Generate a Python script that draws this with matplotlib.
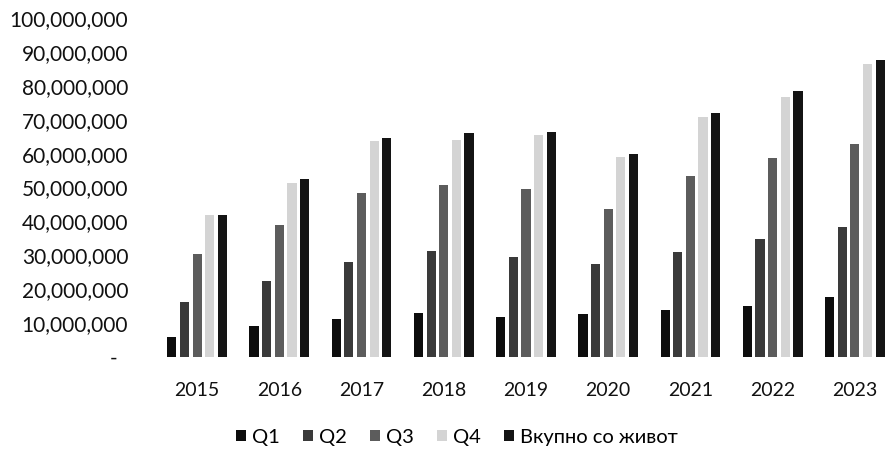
import matplotlib.pyplot as plt
import matplotlib.ticker as mticker
import numpy as np

plt.rcParams['font.family'] = ['Lato', 'DejaVu Sans']

years = ["2015", "2016", "2017", "2018", "2019", "2020", "2021", "2022", "2023"]
series_names = ["Q1", "Q2", "Q3", "Q4", "Вкупно со живот"]

q1 = [5.9e6, 9.1e6, 11.2e6, 13.0e6, 11.8e6, 12.7e6, 13.9e6, 15.0e6, 17.7e6]
q2 = [16.3e6, 22.4e6, 28.0e6, 31.3e6, 29.5e6, 27.4e6, 31.0e6, 34.8e6, 38.3e6]
q3 = [30.4e6, 38.9e6, 48.4e6, 50.7e6, 49.6e6, 43.7e6, 53.4e6, 58.7e6, 62.8e6]
q4 = [41.9e6, 51.3e6, 63.7e6, 64.0e6, 65.5e6, 59.0e6, 70.8e6, 76.7e6, 86.4e6]
total = [42.0e6, 52.5e6, 64.6e6, 66.0e6, 66.4e6, 59.9e6, 72.0e6, 78.5e6, 87.6e6]

colors = ["#0d0d0d", "#3a3a3a", "#5c5c5c", "#d4d4d4", "#141414"]

fig = plt.figure(figsize=(8.86, 4.5), dpi=100)
ax = fig.add_axes([156 / 886, (450 - 357) / 450, (886 - 156) / 886, (357 - 18) / 450])

x = np.arange(len(years))
pitch = 0.154
width = 0.112
for i, (vals, name) in enumerate(zip([q1, q2, q3, q4, total], series_names)):
    offset = (i - 2) * pitch
    ax.bar(x + offset, vals, width=width, color=colors[i], label=name)

ax.set_ylim(0, 100e6)
ax.set_xlim(-0.5, 8.5 - 10 / 82.25)
ax.set_yticks(np.arange(0, 100e6 + 1, 10e6))


# accounting style: zero shown as a dash
def fmt(v, pos):
    if v == 0:
        return "-  "
    return f"{v:,.0f}"


ax.yaxis.set_major_formatter(mticker.FuncFormatter(fmt))
ax.set_xticks(x)
ax.set_xticklabels(years)
ax.tick_params(axis="both", length=0, colors="#111111")
ax.tick_params(axis="y", pad=20, labelsize=15)
ax.tick_params(axis="x", pad=18, labelsize=14)
for s in ax.spines.values():
    s.set_visible(False)

fig.legend(loc="center", bbox_to_anchor=(457 / 886, 1 - 437 / 450), ncol=5,
           frameon=False, fontsize=14.5, handlelength=0.5, handleheight=0.5,
           handletextpad=0.3, columnspacing=1.15)

fig.savefig("out.png", dpi=100)
